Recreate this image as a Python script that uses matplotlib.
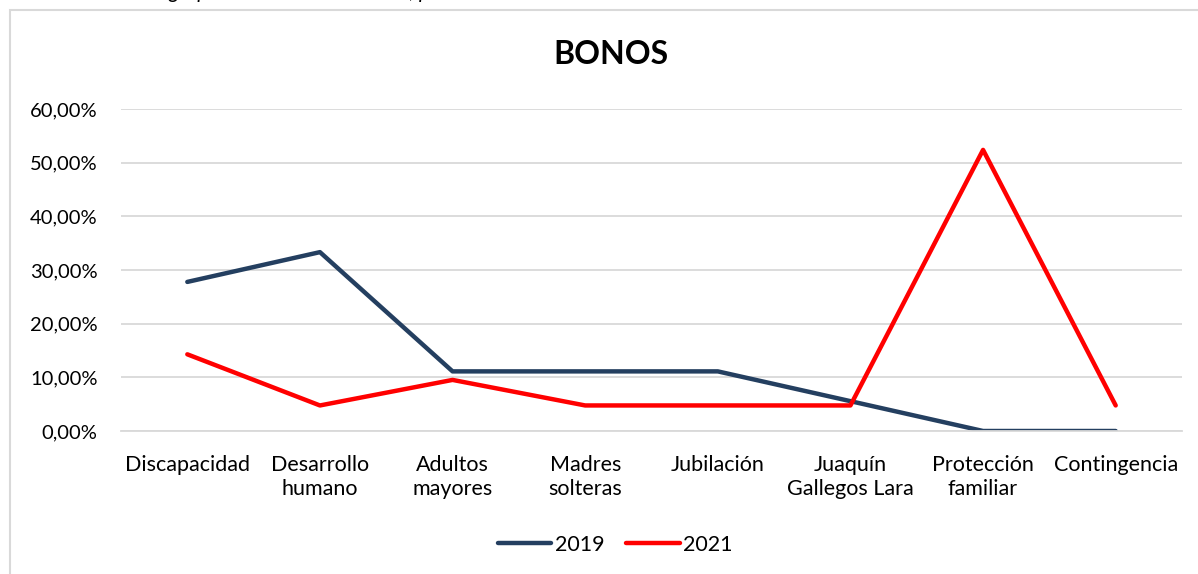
import matplotlib.pyplot as plt
from matplotlib.patches import Rectangle
from matplotlib.ticker import FuncFormatter

categorias = ["Discapacidad", "Desarrollo\nhumano", "Adultos\nmayores", "Madres\nsolteras",
              "Jubilación", "Juaquín\nGallegos Lara", "Protección\nfamiliar", "Contingencia"]
v2019 = [27.78, 33.33, 11.11, 11.11, 11.11, 5.56, 0.0, 0.0]
v2021 = [14.29, 4.76, 9.52, 4.76, 4.76, 4.76, 52.38, 4.76]

plt.rcParams['font.family'] = ['Lato', 'DejaVu Sans']

fig = plt.figure(figsize=(11.98, 5.74), dpi=100)
W, H = 1198, 574

# marco del grafico
fig.patches.append(Rectangle((10 / W, -0.05), 1.2, 1 - 10 / H + 0.05, transform=fig.transFigure,
                             fill=False, edgecolor="#D9D9D9", linewidth=1.5))
fig.text(0.0, 1 + 2 / H, "Fuente: encuesta a grupo mientras de la familia, periodo 2019 - 2021",
         style="italic", fontsize=15, va="baseline", ha="left")

ax = fig.add_axes([121 / W, 1 - 431 / H, (1182 - 121) / W, (431 - 109) / H])
x = range(len(categorias))
ax.plot(x, v2019, color="#243F60", linewidth=3.2, label="2019", solid_capstyle="round")
ax.plot(x, v2021, color="#FF0000", linewidth=3.2, label="2021", solid_capstyle="round")

ax.set_xlim(-0.5, len(categorias) - 0.5)
ax.set_ylim(0, 60)
ax.set_yticks(range(0, 61, 10))
ax.yaxis.set_major_formatter(FuncFormatter(lambda v, p: f"{v:.2f}%".replace(".", ",")))
ax.set_xticks(list(x))
ax.set_xticklabels(categorias, linespacing=1.3)
ax.tick_params(axis="x", length=0, labelsize=15.5, pad=17)
ax.tick_params(axis="y", length=0, labelsize=14.5, pad=17)
ax.grid(axis="y", color="#D9D9D9", linewidth=1.3)
ax.set_axisbelow(True)
for s in ["top", "right", "left"]:
    ax.spines[s].set_visible(False)
ax.spines["bottom"].set_color("#D9D9D9")
ax.spines["bottom"].set_linewidth(1.3)

fig.text(611 / W, 1 - 55 / H, "BONOS", fontsize=23, fontweight="bold", ha="center", va="center")

fig.legend(loc="center", bbox_to_anchor=(615 / W, 1 - 545 / H), ncol=2, frameon=False,
           fontsize=15.5, handlelength=2.5, handletextpad=0.15, columnspacing=1.0)

plt.savefig("out.png", dpi=100)
